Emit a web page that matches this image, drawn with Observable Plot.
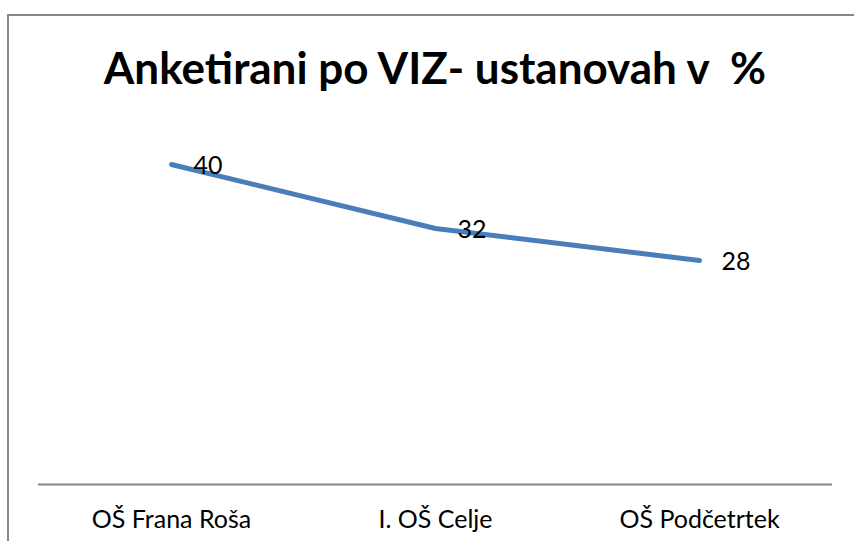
<!DOCTYPE html>
<html>
<head>
<meta charset="utf-8">
<script src="https://cdn.jsdelivr.net/npm/d3@7"></script>
<script src="https://cdn.jsdelivr.net/npm/@observablehq/plot@0.6"></script>
<style>
  html, body { margin: 0; padding: 0; background: #fff; }
  #wrap { position: relative; width: 854px; height: 541px; overflow: hidden; font-family: Lato, "Open Sans", sans-serif; }
  #frame { position: absolute; left: 7px; top: 14px; width: 900px; height: 600px; border-left: 2px solid #878787; border-top: 2px solid #878787; box-sizing: border-box; }
  #title { position: absolute; left: 0; width: 870px; top: 40px; text-align: center; font-weight: bold; font-size: 44px; line-height: 54px; color: #000; white-space: pre; }
  #chart { position: absolute; left: 0; top: 0; }
</style>
</head>
<body>
<div id="wrap">
  <div id="frame"></div>
  <div id="title"></div>
  <div id="chart"></div>
</div>
<script>
const titleText = "Anketirani po VIZ- ustanovah v  %";
const categories = ["OŠ Frana Roša", "I. OŠ Celje", "OŠ Podčetrtek"];
const values = [40, 32, 28];

document.getElementById("title").textContent = titleText;

const data = categories.map((c, i) => ({category: c, value: values[i]}));

const chart = Plot.plot({
  width: 854,
  height: 541,
  marginLeft: 38,
  marginRight: 22,
  marginTop: 124,
  marginBottom: 57,
  style: {background: "transparent", fontFamily: "Lato, 'Open Sans', sans-serif", overflow: "visible"},
  x: {type: "point", domain: categories, padding: 0.5, axis: null},
  y: {domain: [0, 45], axis: null},
  marks: [
    Plot.ruleY([0], {stroke: "#868686", strokeWidth: 2}),
    Plot.axisX({tickSize: 0, tickPadding: 26, fontSize: 25, fill: "#000", color: "#000", label: null}),
    Plot.line(data, {x: "category", y: "value", stroke: "#4A7EBB", strokeWidth: 5, strokeLinecap: "round", strokeLinejoin: "round"}),
    Plot.text(data, {x: "category", y: "value", text: d => String(d.value), dx: 22, dy: 1, textAnchor: "start", fontSize: 25, fill: "#000"})
  ]
});
document.getElementById("chart").appendChild(chart);
</script>
</body>
</html>
